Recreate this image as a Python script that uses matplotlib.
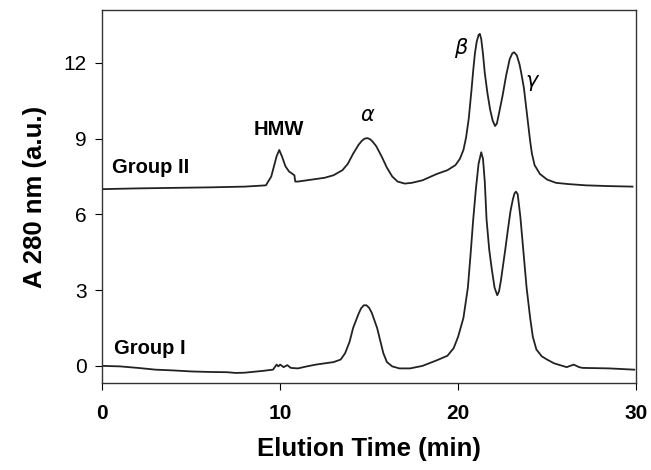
import numpy as np
import matplotlib
matplotlib.use("Agg")
import matplotlib.pyplot as plt

plt.rcParams['font.family'] = ['Liberation Sans', 'DejaVu Sans']

# Group II trace (offset by about 7 units)
t2 = [0.0, 2.0, 4.0, 6.0, 8.0, 9.2, 9.5, 9.8, 9.95, 10.1, 10.3, 10.5, 10.7, 10.8, 10.85,
      11.0, 11.5, 12.0, 12.5, 13.0, 13.5, 13.8, 14.1, 14.4, 14.6, 14.75, 14.9, 15.05, 15.2,
      15.4, 15.7, 16.0, 16.3, 16.6, 17.0, 17.4, 18.0, 18.8, 19.4, 19.85, 20.1, 20.3, 20.45,
      20.6, 20.75, 20.85, 20.95, 21.05, 21.15, 21.22, 21.3, 21.4, 21.5, 21.65, 21.8, 21.95,
      22.08, 22.18, 22.3, 22.5, 22.7, 22.9, 23.05, 23.15, 23.3, 23.45, 23.55, 23.7, 23.85,
      23.95, 24.05, 24.15, 24.3, 24.6, 25.0, 25.5, 26.2, 27.2, 28.5, 29.8]
a2 = [7.0, 7.03, 7.05, 7.07, 7.1, 7.15, 7.5, 8.3, 8.55, 8.3, 7.9, 7.7, 7.6, 7.55, 7.3,
      7.3, 7.35, 7.4, 7.45, 7.55, 7.75, 8.0, 8.4, 8.75, 8.92, 9.0, 9.02, 8.98, 8.88,
      8.7, 8.3, 7.85, 7.5, 7.3, 7.22, 7.25, 7.35, 7.6, 7.75, 7.95, 8.2, 8.55, 9.05,
      9.8, 10.9, 11.7, 12.4, 12.85, 13.1, 13.15, 12.95, 12.35, 11.6, 10.8, 10.15, 9.7,
      9.5, 9.6, 10.0, 10.7, 11.5, 12.15, 12.38, 12.42, 12.3, 11.95, 11.6, 11.0, 10.1,
      9.5, 8.9, 8.4, 7.95, 7.6, 7.38, 7.25, 7.2, 7.15, 7.12, 7.1]

# Group I trace
t1 = [0.0, 1.0, 2.0, 3.0, 4.0, 5.0, 6.0, 7.0, 7.5, 8.0, 9.0, 9.6, 9.8, 9.9, 10.0, 10.2,
      10.4, 10.6, 11.0, 11.5, 12.0, 12.5, 13.0, 13.4, 13.65, 13.9, 14.1, 14.4, 14.55, 14.7,
      14.85, 15.0, 15.15, 15.45, 15.8, 16.0, 16.3, 16.7, 17.3, 18.0, 18.8, 19.4, 19.75, 20.0,
      20.3, 20.55, 20.7, 20.85, 21.0, 21.15, 21.3, 21.4, 21.5, 21.6, 21.75, 21.9, 22.05,
      22.2, 22.3, 22.4, 22.5, 22.65, 22.8, 22.95, 23.08, 23.17, 23.25, 23.35, 23.5, 23.65,
      23.85, 24.05, 24.2, 24.4, 24.7, 25.0, 25.4, 26.1, 26.5, 26.8, 27.0, 28.5, 29.9]
a1 = [0.0, -0.02, -0.08, -0.15, -0.18, -0.22, -0.24, -0.25, -0.28, -0.27, -0.2, -0.15,
      0.05, -0.02, 0.05, -0.05, 0.03, -0.08, -0.1, -0.02, 0.05, 0.1, 0.15, 0.25, 0.5, 0.95,
      1.5, 2.05, 2.28, 2.4, 2.4, 2.3, 2.1, 1.5, 0.5, 0.15, -0.02, -0.1, -0.1, 0.0, 0.22,
      0.4, 0.7, 1.15, 1.9, 3.1, 4.4, 5.8, 7.0, 8.0, 8.46, 8.2, 7.3, 5.8, 4.6, 3.8, 3.1,
      2.8, 2.95, 3.35, 3.85, 4.6, 5.4, 6.15, 6.6, 6.83, 6.9, 6.8, 5.9, 4.7,
      3.1, 1.9, 1.15, 0.65, 0.38, 0.25, 0.1, -0.05, 0.05, -0.05, -0.08, -0.1, -0.15]

fig = plt.figure(figsize=(6.51, 4.70), dpi=100)
ax = fig.add_axes([0.157, 0.185, 0.82, 0.794])

ax.plot(t2, a2, color='#222222', lw=1.3)
ax.plot(t1, a1, color='#222222', lw=1.3)

ax.set_xlim(0, 30)
ax.set_ylim(-0.68, 14.1)
ax.set_xticks([0, 10, 20, 30])
ax.set_yticks([0, 3, 6, 9, 12])
ax.tick_params(axis='x', labelsize=15, direction='out', length=5, pad=10, top=False)
ax.tick_params(axis='y', labelsize=15, direction='out', length=5, pad=6, right=False)
for lab in ax.get_xticklabels():
    lab.set_fontweight('bold')
for s in ax.spines.values():
    s.set_color('#333333')
    s.set_linewidth(1.0)

ax.set_xlabel('Elution Time (min)', fontsize=18.5, fontweight='bold', labelpad=10)
ax.set_ylabel('A 280 nm (a.u.)', fontsize=18.5, fontweight='bold', labelpad=12)

ax.text(2.7, 7.63, 'Group II', fontsize=14.5, fontweight='bold', ha='center', va='baseline')
ax.text(2.65, 0.47, 'Group I', fontsize=14.5, fontweight='bold', ha='center', va='baseline')
ax.text(9.9, 9.13, 'HMW', fontsize=14.5, fontweight='bold', ha='center', va='baseline')
ax.text(14.9, 9.92, r'$\alpha$', fontsize=15, ha='center', va='center')
ax.text(20.2, 12.6, r'$\beta$', fontsize=15, ha='center', va='center')
ax.text(24.2, 11.2, r'$\gamma$', fontsize=15, ha='center', va='center')

fig.savefig('out.png', dpi=100)
